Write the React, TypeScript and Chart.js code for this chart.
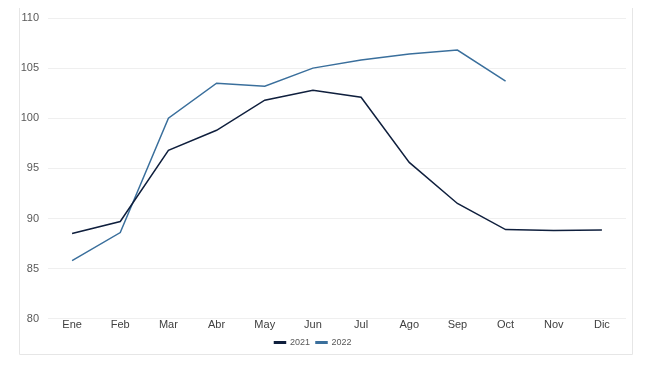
import React, { useEffect, useRef } from "react";
import { Chart, registerables } from "chart.js";

Chart.register(...registerables);

const categories = ["Ene", "Feb", "Mar", "Abr", "May", "Jun", "Jul", "Ago", "Sep", "Oct", "Nov", "Dic"];
const series2021 = [88.5, 89.7, 96.8, 98.8, 101.8, 102.8, 102.1, 95.6, 91.5, 88.9, 88.8, 88.85];
const series2022 = [85.8, 88.6, 100.0, 103.5, 103.2, 105.0, 105.8, 106.4, 106.8, 103.7, null, null];
const yTicks = [80, 85, 90, 95, 100, 105, 110];

const framePlugin = {
  id: "frame",
  beforeDraw(chart: any) {
    const ctx = chart.ctx;
    ctx.save();
    ctx.fillStyle = "#ffffff";
    ctx.fillRect(0, 0, chart.width, chart.height);
    ctx.strokeStyle = "#e6e6e6";
    ctx.lineWidth = 1;
    ctx.beginPath();
    ctx.moveTo(19.5, 8);
    ctx.lineTo(19.5, 354.5);
    ctx.lineTo(632.5, 354.5);
    ctx.lineTo(632.5, 8);
    ctx.stroke();
    ctx.restore();
  },
};

export default function App() {
  const ref = useRef<HTMLCanvasElement>(null);
  useEffect(() => {
    const chart = new Chart(ref.current!, {
      type: "line",
      data: {
        labels: categories,
        datasets: [
          { label: "2021", data: series2021, borderColor: "#0f1f3d", backgroundColor: "#0f1f3d", borderWidth: 1.5, pointRadius: 0, tension: 0 },
          { label: "2022", data: series2022, borderColor: "#3a6f9c", backgroundColor: "#3a6f9c", borderWidth: 1.5, pointRadius: 0, tension: 0, spanGaps: false },
        ],
      },
      options: {
        animation: false,
        responsive: false,
        layout: { padding: { top: 18, right: 24, bottom: 9, left: 0 } },
        plugins: {
          tooltip: { enabled: false },
          legend: {
            position: "bottom",
            labels: {
              boxWidth: 11,
              boxHeight: 1.5,
              padding: 6,
              color: "#595959",
              font: { family: "Liberation Sans", size: 9 },
            },
          },
        },
        scales: {
          x: {
            offset: true,
            grid: { display: false, drawTicks: false },
            border: { display: false },
            ticks: { color: "#404040", font: { family: "Liberation Sans", size: 11 }, padding: 0, maxRotation: 0 },
          },
          y: {
            min: 80,
            max: 110,
            afterFit: (s: any) => { s.width = 48; },
            afterBuildTicks: (s: any) => { s.ticks = yTicks.map((v) => ({ value: v })); },
            grid: { color: "#efefef", drawTicks: false },
            border: { display: false },
            ticks: { color: "#595959", font: { family: "Liberation Sans", size: 11 }, padding: 9 },
          },
        },
      },
      plugins: [framePlugin],
    });
    return () => chart.destroy();
  }, []);
  return (
    <div style={{ position: "absolute", left: 0, top: 0, width: 650, height: 366 }}>
      <canvas ref={ref} width={650} height={366} />
    </div>
  );
}
